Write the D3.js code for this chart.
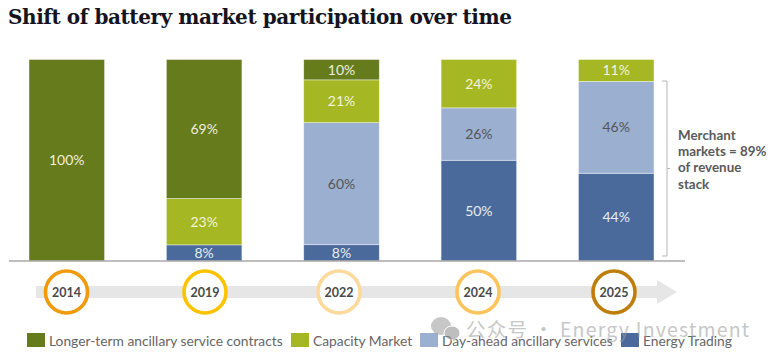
<!DOCTYPE html>
<html>
<head>
<meta charset="utf-8">
<script src="https://cdn.jsdelivr.net/npm/d3@7"></script>
<style>
  html, body { margin: 0; padding: 0; background: #fff; }
  text { font-family: Lato, sans-serif; }
</style>
</head>
<body>
<div id="chart"></div>
<script>
const years = ["2014", "2019", "2022", "2024", "2025"];
const seriesNames = ["Energy Trading", "Day-ahead ancillary services", "Capacity Market", "Longer-term ancillary service contracts"];
const energyTrading = [0, 8, 8, 50, 44];
const dayAhead = [0, 0, 60, 26, 46];
const capacity = [0, 23, 21, 24, 11];
const longerTerm = [100, 69, 10, 0, 0];
const seriesColors = ["#4a6a9b", "#9bb0d0", "#a5b723", "#667b1c"];
const labelColors = ["#e8ecf3", "#555555", "#f2f4dc", "#eef0dc"];
const ringColors = ["#f09a0c", "#fdc300", "#fdd99b", "#fdc35c", "#bf7d0b"];
const legendOrder = [3, 2, 1, 0];
const noteLines = ["Merchant", "markets = 89%", "of revenue", "stack"];

const width = 773;
const height = 360;
const plot = { left: 29, right: 654, top: 59.5, bottom: 261 };

const svg = d3.select("#chart").append("svg")
    .attr("width", width)
    .attr("height", height)
    .style("display", "block");

svg.append("text")
    .attr("x", 8)
    .attr("y", 24)
    .attr("font-size", 20)
    .attr("font-weight", 700)
    .attr("fill", "#14141e")
    .style("font-family", "'DejaVu Serif', serif")
    .attr("textLength", 504)
    .attr("lengthAdjust", "spacing")
    .text("Shift of battery market participation over time");

const rows = years.map((y, i) => ({
    year: y,
    [seriesNames[0]]: energyTrading[i],
    [seriesNames[1]]: dayAhead[i],
    [seriesNames[2]]: capacity[i],
    [seriesNames[3]]: longerTerm[i]
}));

// columns are drawn to full height even when the rounded labels don't add to 100
const stacked = d3.stack().keys(seriesNames).offset(d3.stackOffsetExpand)(rows);

const xScale = d3.scaleBand().domain(years).range([plot.left, plot.right]).paddingInner(0.45);
const yScale = d3.scaleLinear().domain([0, 1]).range([plot.bottom, plot.top]);

const layers = svg.append("g").selectAll("g")
    .data(stacked)
    .join("g");

layers.selectAll("rect")
    .data((s, i) => s.map(d => ({ d, i })).filter(e => e.d[1] > e.d[0]))
    .join("rect")
    .attr("x", e => xScale(e.d.data.year))
    .attr("y", e => yScale(e.d[1]))
    .attr("width", xScale.bandwidth())
    .attr("height", e => yScale(e.d[0]) - yScale(e.d[1]))
    .attr("fill", e => seriesColors[e.i])
    .attr("stroke", "#fff")
    .attr("stroke-opacity", 0.6)
    .attr("stroke-width", 0.7);

layers.selectAll("text")
    .data((s, i) => s.map(d => ({ d, i, key: s.key })).filter(e => e.d[1] > e.d[0]))
    .join("text")
    .attr("x", e => xScale(e.d.data.year) + xScale.bandwidth() / 2)
    .attr("y", e => (yScale(e.d[0]) + yScale(e.d[1])) / 2 + 5)
    .attr("text-anchor", "middle")
    .attr("font-size", 14)
    .attr("fill", e => labelColors[e.i])
    .text(e => `${e.d.data[e.key]}%`);

svg.append("line")
    .attr("x1", 9).attr("x2", 685)
    .attr("y1", 261).attr("y2", 261)
    .attr("stroke", "#a9a9a9")
    .attr("stroke-width", 1.6);

// bracket for the merchant note
svg.append("path")
    .attr("d", "M662,81H667V256H662M667,168.5H670")
    .attr("fill", "none")
    .attr("stroke", "#b5b5b5")
    .attr("stroke-width", 1);

svg.append("g").selectAll("text")
    .data(noteLines)
    .join("text")
    .attr("x", 678)
    .attr("y", (d, i) => 139.5 + i * 16.4)
    .attr("font-size", 13.4)
    .attr("font-weight", 700)
    .attr("fill", "#5a5a5a")
    .text(d => d);

// timeline arrow
svg.append("path")
    .attr("d", "M36,286H657V280L677,292L657,304V298H36Z")
    .attr("fill", "#e6e6e6");

const ringX = d3.scaleOrdinal().domain(years).range([66.5, 205, 339, 478, 614]);

const rings = svg.append("g").selectAll("g")
    .data(years)
    .join("g")
    .attr("transform", d => `translate(${ringX(d)},292)`);

rings.append("circle")
    .attr("r", 21)
    .attr("fill", "#fff")
    .attr("stroke-width", 3.6)
    .attr("stroke", (d, i) => ringColors[i]);

rings.append("text")
    .attr("y", 4.5)
    .attr("text-anchor", "middle")
    .attr("font-size", 12.5)
    .attr("font-weight", 700)
    .attr("fill", "#4a4a4a")
    .text(d => d);

// legend
const legendX = [27, 291, 420, 621];
const legend = svg.append("g").selectAll("g")
    .data(legendOrder)
    .join("g")
    .attr("transform", (d, i) => `translate(${legendX[i]},333)`);

legend.append("rect")
    .attr("width", 18)
    .attr("height", 14)
    .attr("fill", d => seriesColors[d]);

legend.append("text")
    .attr("x", 22)
    .attr("y", 13)
    .attr("font-size", 13.8)
    .attr("fill", "#666666")
    .text(d => seriesNames[d]);

// watermark
const mark = svg.append("g").attr("opacity", 0.55);
mark.append("ellipse").attr("cx", 441).attr("cy", 326).attr("rx", 10).attr("ry", 9).attr("fill", "#9a9a9a");
mark.append("ellipse").attr("cx", 452).attr("cy", 333).attr("rx", 8).attr("ry", 7).attr("fill", "#8a8a8a").attr("stroke", "#fff");
mark.append("text")
    .attr("x", 466)
    .attr("y", 337)
    .attr("font-size", 19.5)
    .attr("fill", "#9a9a9a")
    .style("font-family", "'Noto Sans CJK SC', sans-serif")
    .style("letter-spacing", "1.2px")
    .text("公众号 · Energy Investment");
</script>
</body>
</html>
